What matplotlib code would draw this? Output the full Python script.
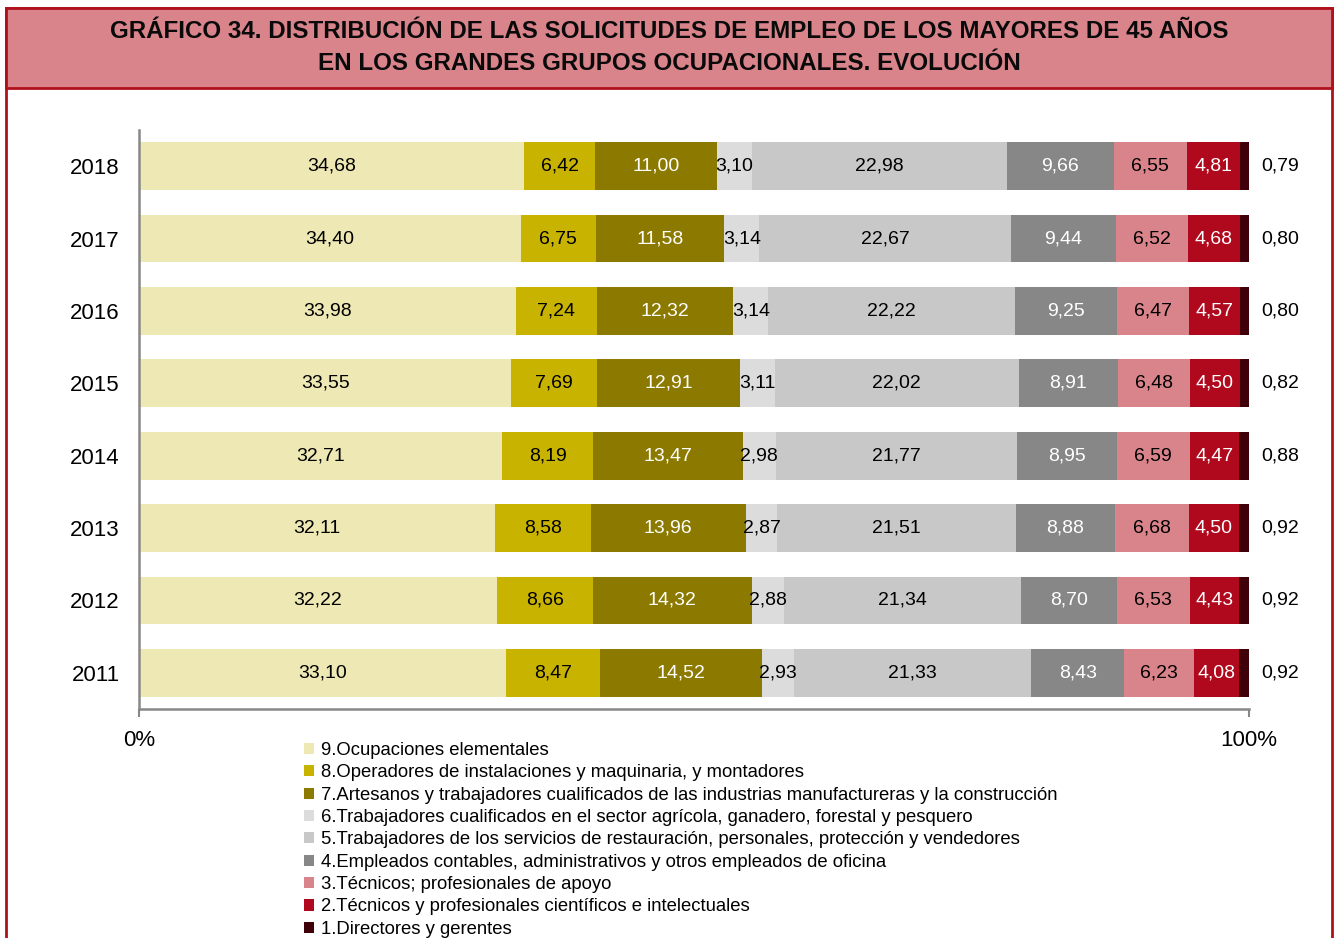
import matplotlib
matplotlib.use("Agg")
import matplotlib.pyplot as plt
from matplotlib.patches import Rectangle
import numpy as np

plt.rcParams['font.family'] = ['Liberation Sans', 'DejaVu Sans']

years = ["2011", "2012", "2013", "2014", "2015", "2016", "2017", "2018"]

groups = [
    "9.Ocupaciones elementales",
    "8.Operadores de instalaciones y maquinaria, y montadores",
    "7.Artesanos y trabajadores cualificados de las industrias manufactureras y la construcción",
    "6.Trabajadores cualificados en el sector agrícola, ganadero, forestal y pesquero",
    "5.Trabajadores de los servicios de restauración, personales, protección y vendedores",
    "4.Empleados contables, administrativos y otros empleados de oficina",
    "3.Técnicos; profesionales de apoyo",
    "2.Técnicos y profesionales científicos e intelectuales",
    "1.Directores y gerentes",
]

# shares (%) per group, ordered 2011 -> 2018
g9 = [33.10, 32.22, 32.11, 32.71, 33.55, 33.98, 34.40, 34.68]
g8 = [8.47, 8.66, 8.58, 8.19, 7.69, 7.24, 6.75, 6.42]
g7 = [14.52, 14.32, 13.96, 13.47, 12.91, 12.32, 11.58, 11.00]
g6 = [2.93, 2.88, 2.87, 2.98, 3.11, 3.14, 3.14, 3.10]
g5 = [21.33, 21.34, 21.51, 21.77, 22.02, 22.22, 22.67, 22.98]
g4 = [8.43, 8.70, 8.88, 8.95, 8.91, 9.25, 9.44, 9.66]
g3 = [6.23, 6.53, 6.68, 6.59, 6.48, 6.47, 6.52, 6.55]
g2 = [4.08, 4.43, 4.50, 4.47, 4.50, 4.57, 4.68, 4.81]
g1 = [0.92, 0.92, 0.92, 0.88, 0.82, 0.80, 0.80, 0.79]

series = [g9, g8, g7, g6, g5, g4, g3, g2, g1]
colors = ["#EDE8B4", "#C8B400", "#8C7A00", "#DCDCDC", "#C8C8C8",
          "#878787", "#D9838B", "#B0081C", "#40000A"]
text_colors = ["black", "black", "white", "black", "black",
               "white", "black", "white", "black"]

W, H = 1338, 938
fig = plt.figure(figsize=(W / 100, H / 100), dpi=100)

# outer frame and title band
red = "#B0101C"
fig.patches.append(Rectangle((6 / W, -0.01), (1332 - 6) / W, (938 - 8) / H + 0.01,
                             transform=fig.transFigure, facecolor="none",
                             edgecolor=red, linewidth=2, zorder=-2))
fig.patches.append(Rectangle((6 / W, 1 - 88 / H), (1332 - 6) / W, 80 / H,
                             transform=fig.transFigure, facecolor="#D9838B",
                             edgecolor=red, linewidth=2, zorder=-1))
fig.text(669 / W, 1 - 31 / H,
         "GRÁFICO 34. DISTRIBUCIÓN DE LAS SOLICITUDES DE EMPLEO DE LOS MAYORES DE 45 AÑOS",
         ha="center", va="center", fontsize=17.4, fontweight="bold", color="#0a0a0a")
fig.text(669 / W, 1 - 64 / H,
         "EN LOS GRANDES GRUPOS OCUPACIONALES. EVOLUCIÓN",
         ha="center", va="center", fontsize=17.4, fontweight="bold", color="#0a0a0a")

ax = fig.add_axes([139 / W, 1 - 709 / H, (1249 - 139) / W, (709 - 130) / H])
ax.set_facecolor("none")

y = np.arange(len(years))
left = np.zeros(len(years))
containers = []
for vals, col, tcol, name in zip(series, colors, text_colors, groups):
    vals = np.array(vals)
    bc = ax.barh(y, vals, left=left, height=0.66, color=col, label=name,
                 edgecolor="none")
    containers.append(bc)
    labels = [f"{v:.2f}".replace(".", ",") for v in vals]
    if name.startswith("1."):
        ax.bar_label(bc, labels=labels, label_type="edge", padding=9,
                     fontsize=14, color="black")
    else:
        ax.bar_label(bc, labels=labels, label_type="center",
                     fontsize=14, color=tcol)
    left += vals

ax.set_xlim(0, 100)
ax.set_ylim(-0.5, len(years) - 0.5)
ax.set_yticks(y)
ax.set_yticklabels(years, fontsize=16)
ax.tick_params(axis="y", length=0, pad=14)
ax.set_xticks([0, 100])
ax.set_xticklabels(["0%", "100%"], fontsize=16)
ax.tick_params(axis="x", length=6, width=1.5, color="#888888", pad=9)
for s in ["top", "right"]:
    ax.spines[s].set_visible(False)
for s in ["left", "bottom"]:
    ax.spines[s].set_color("#888888")
    ax.spines[s].set_linewidth(1.8)

fig.legend(handles=containers, labels=groups, loc="upper left",
           bbox_to_anchor=(304 / W, 1 - 742 / H), frameon=False,
           fontsize=13.3, handlelength=0.55, handleheight=0.55,
           handletextpad=0.35, labelspacing=0.29, borderpad=0,
           borderaxespad=0)

fig.savefig("out.png", dpi=100)
